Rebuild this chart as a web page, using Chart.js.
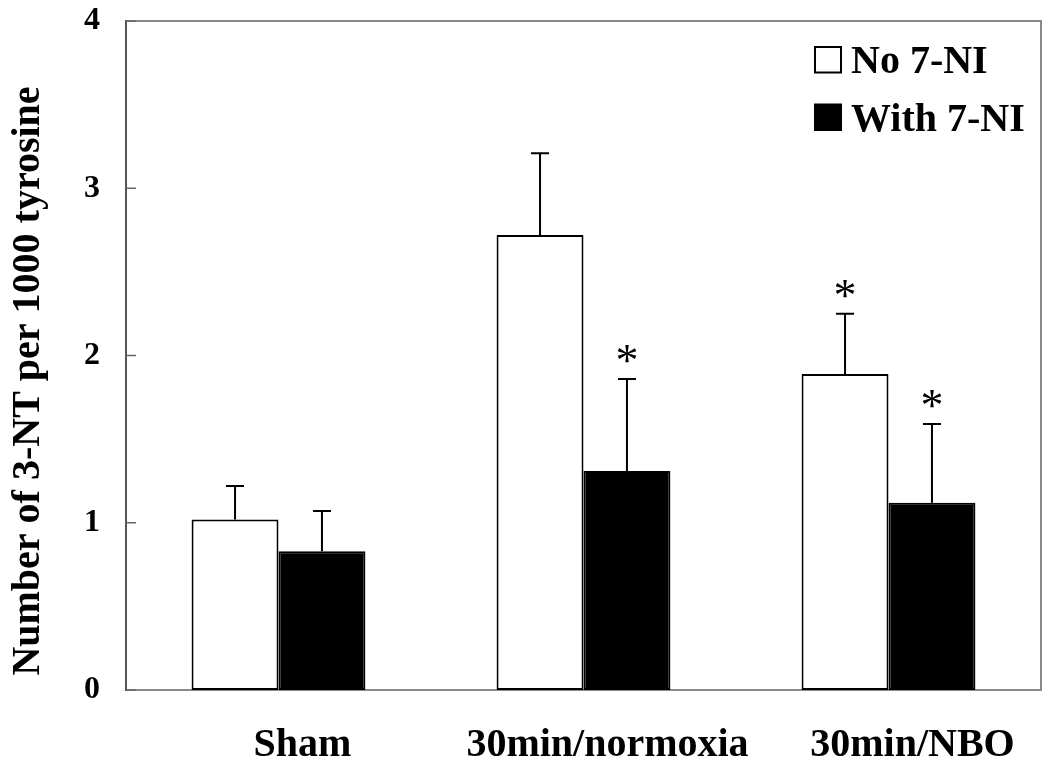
<!DOCTYPE html>
<html>
<head>
<meta charset="utf-8">
<script src="https://cdn.jsdelivr.net/npm/chart.js@4/dist/chart.umd.min.js"></script>
<style>
html,body{margin:0;padding:0;background:#fff;}
#wrap{width:1050px;height:766px;}
</style>
</head>
<body>
<div id="wrap"><canvas id="c" width="1050" height="766"></canvas></div>
<script>
const categories = ["Sham", "30min/normoxia", "30min/NBO"];
const seriesNames = ["No 7-NI", "With 7-NI"];
const noNI = [1.02, 2.72, 1.89];
const noNIErr = [0.20, 0.49, 0.36];
const withNI = [0.83, 1.31, 1.12];
const withNIErr = [0.24, 0.55, 0.47];
const noNISig = [false, false, true];
const withNISig = [false, true, true];
const yTicks = [0, 1, 2, 3, 4];
const yTitle = 'Number of 3-NT per 1000 tyrosine';

const SERIF = '"Liberation Serif", "Times New Roman", serif';

const errorBarPlugin = {
  id: 'errorBars',
  afterDatasetsDraw(chart) {
    const ctx = chart.ctx;
    const yScale = chart.scales.y;
    const errs = [noNIErr, withNIErr];
    const sigs = [noNISig, withNISig];
    const vals = [noNI, withNI];
    chart.data.datasets.forEach((ds, di) => {
      const meta = chart.getDatasetMeta(di);
      meta.data.forEach((el, i) => {
        const top = yScale.getPixelForValue(vals[di][i] + errs[di][i]);
        ctx.save();
        ctx.strokeStyle = '#000';
        ctx.lineWidth = 2;
        ctx.beginPath();
        ctx.moveTo(el.x, el.y);
        ctx.lineTo(el.x, top);
        ctx.moveTo(el.x - 9, top);
        ctx.lineTo(el.x + 9, top);
        ctx.stroke();
        if (sigs[di][i]) {
          ctx.fillStyle = '#000';
          ctx.font = '46px ' + SERIF;
          ctx.textAlign = 'center';
          ctx.textBaseline = 'alphabetic';
          ctx.fillText('*', el.x, top - 3);
        }
        ctx.restore();
      });
    });
  }
};

const framePlugin = {
  id: 'frame',
  afterDraw(chart) {
    const ctx = chart.ctx;
    const a = chart.chartArea;
    const yScale = chart.scales.y;
    ctx.save();
    ctx.strokeStyle = '#8a8a8a';
    ctx.lineWidth = 2;
    ctx.beginPath();
    ctx.moveTo(a.left, a.top);
    ctx.lineTo(a.right, a.top);
    ctx.lineTo(a.right, a.bottom);
    ctx.stroke();
    ctx.strokeStyle = '#666';
    ctx.lineWidth = 1.5;
    yTicks.forEach(t => {
      const y = yScale.getPixelForValue(t);
      ctx.beginPath();
      ctx.moveTo(a.left, y);
      ctx.lineTo(a.left + 10, y);
      ctx.stroke();
    });
    // y axis title
    ctx.save();
    ctx.translate(29, 381);
    ctx.rotate(-Math.PI / 2);
    ctx.font = 'bold 40px ' + SERIF;
    ctx.fillStyle = '#000';
    ctx.textAlign = 'center';
    ctx.textBaseline = 'middle';
    ctx.fillText(yTitle, 0, 0);
    ctx.restore();
    // legend
    const items = chart.data.datasets;
    ctx.font = 'bold 40px ' + SERIF;
    ctx.textBaseline = 'alphabetic';
    ctx.textAlign = 'left';
    items.forEach((ds, i) => {
      const top = 47 + i * 57.5;
      ctx.fillStyle = ds.backgroundColor;
      ctx.fillRect(815, top, 26, 25.5);
      ctx.strokeStyle = '#000';
      ctx.lineWidth = 2;
      ctx.strokeRect(815, top, 26, 25.5);
      ctx.fillStyle = '#000';
      ctx.fillText(ds.label, 851, top + 26);
    });
    ctx.restore();
  }
};

new Chart(document.getElementById('c'), {
  type: 'bar',
  data: {
    labels: categories,
    datasets: [
      { label: seriesNames[0], data: noNI, backgroundColor: '#ffffff', borderColor: '#000', borderWidth: 2, borderSkipped: false },
      { label: seriesNames[1], data: withNI, backgroundColor: '#000000', borderColor: '#000', borderWidth: 2, borderSkipped: false }
    ]
  },
  options: {
    responsive: false,
    animation: false,
    devicePixelRatio: 1,
    layout: { autoPadding: false, padding: { top: 21, right: 9, left: 0, bottom: 0 } },
    plugins: { legend: { display: false }, tooltip: { enabled: false } },
    datasets: { bar: { barPercentage: 1.0, categoryPercentage: 0.57 } },
    scales: {
      x: {
        grid: { display: false, drawTicks: false },
        border: { display: true, color: '#8a8a8a', width: 2 },
        ticks: { color: '#000', font: { family: SERIF, size: 40, weight: 'bold' }, padding: 32, labelOffset: 24 },
        afterFit(s) { s.height = 76; s.paddingLeft = 0; s.paddingRight = 0; }
      },
      y: {
        min: 0, max: 4,
        grid: { display: false, drawTicks: false },
        border: { display: true, color: '#555', width: 2 },
        afterBuildTicks(s) { s.ticks = yTicks.map(v => ({ value: v })); },
        ticks: { color: '#000', font: { family: SERIF, size: 32, weight: 'bold', lineHeight: 1 }, padding: 26 },
        title: { display: false, text: yTitle },
        afterFit(s) { s.width = 126; s.paddingTop = 0; s.paddingBottom = 0; }
      }
    }
  },
  plugins: [errorBarPlugin, framePlugin]
});
</script>
</body>
</html>
